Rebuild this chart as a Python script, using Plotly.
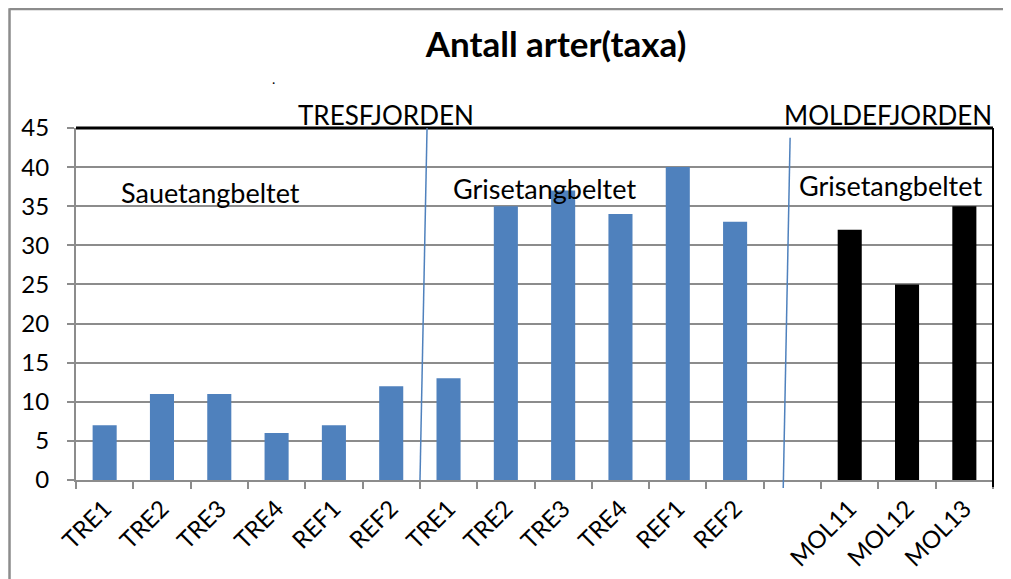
import plotly.graph_objects as go

labels = ["TRE1", "TRE2", "TRE3", "TRE4", "REF1", "REF2",
          "TRE1", "TRE2", "TRE3", "TRE4", "REF1", "REF2",
          "", "MOL11", "MOL12", "MOL13"]
tres_sauetang = [7, 11, 11, 6, 7, 12]
tres_grisetang = [13, 35, 37, 34, 40, 33]
molde_grisetang = [32, 25, 35]

BLUE = "#4F81BD"
GRID = "#8C8C8C"
FONT = "Lato"

n = len(labels)
x_sau = list(range(0, 6))
x_gris = list(range(6, 12))
x_mol = list(range(13, 16))

fig = go.Figure()
fig.add_trace(go.Bar(x=x_sau, y=tres_sauetang, marker=dict(color=BLUE, line=dict(width=0)),
                     width=0.42, showlegend=False))
fig.add_trace(go.Bar(x=x_gris, y=tres_grisetang, marker=dict(color=BLUE, line=dict(width=0)),
                     width=0.42, showlegend=False))
fig.add_trace(go.Bar(x=x_mol, y=molde_grisetang, marker=dict(color="black", line=dict(width=0)),
                     width=0.42, showlegend=False))

fig.update_layout(
    width=1011, height=579,
    margin=dict(l=68, r=26, t=120, b=107),
    plot_bgcolor="white", paper_bgcolor="white",
    font=dict(family=FONT, color="black"),
    title=dict(text="<b>Antall arter(taxa)</b>", x=0.542, xanchor="center",
               y=0.936, yanchor="middle", font=dict(size=35, family=FONT, color="black")),
    xaxis=dict(range=[-0.5, n - 0.5], tickmode="array", tickvals=list(range(n)),
               ticktext=labels, tickangle=-45, ticks="", showgrid=False, zeroline=False,
               showline=True, linecolor=GRID, linewidth=2, ticklabelstandoff=3,
               tickfont=dict(size=24, family=FONT),
               minor=dict(tickmode="array", tickvals=[i - 0.5 for i in range(n + 1)],
                          ticks="outside", ticklen=7, tickcolor=GRID, tickwidth=2,
                          showgrid=False)),
    yaxis=dict(range=[0, 45], tickmode="array", tickvals=list(range(0, 50, 5)),
               ticks="outside", ticklen=7, tickcolor=GRID, tickwidth=2,
               showgrid=True, gridcolor=GRID, gridwidth=2, zeroline=False,
               showline=True, linecolor=GRID, linewidth=2, ticklabelstandoff=13,
               tickfont=dict(size=24, family=FONT)),
    bargap=0.58,
)

# plot-area frame: black top and right edges
fig.add_shape(type="line", xref="paper", yref="paper", x0=0, x1=1, y0=1, y1=1,
              line=dict(color="black", width=3))
fig.add_shape(type="line", xref="paper", yref="paper", x0=1, x1=1, y0=-0.02, y1=1,
              line=dict(color="black", width=2))
# outer chart border (gray)
fig.add_shape(type="line", xref="paper", yref="paper", x0=-0.0725, x1=-0.0725, y0=-0.3, y1=1.34,
              line=dict(color="#8C8C8C", width=2.5))
fig.add_shape(type="line", xref="paper", yref="paper", x0=-0.0725, x1=1.1, y0=1.338, y1=1.338,
              line=dict(color="#8C8C8C", width=2.5))

# fjord separators
fig.add_shape(type="line", xref="x", yref="paper", x0=5.625, y0=1.0, x1=5.502, y1=0,
              line=dict(color=BLUE, width=1.5))
fig.add_shape(type="line", xref="x", yref="paper", x0=11.96, y0=0.972, x1=11.84, y1=-0.0227,
              line=dict(color=BLUE, width=1.5))

ann = [
    (4.91, 1.037, "paper", "TRESFJORDEN", 26),
    (13.67, 1.037, "paper", "MOLDEFJORDEN", 26),
    (1.84, 36.7, "y", "Sauetangbeltet", 27),
    (7.67, 37.3, "y", "Grisetangbeltet", 27),
    (13.72, 37.6, "y", "Grisetangbeltet", 27),
]
for xv, yv, yr, t, s in ann:
    fig.add_annotation(x=xv, y=yv, xref="x", yref=yr, text=t, showarrow=False,
                       xanchor="center", yanchor="middle", font=dict(size=s, family=FONT, color="black"))
fig.add_annotation(x=2.94, y=1.17, xref="x", yref="paper", text=".", showarrow=False,
                   font=dict(size=14, family=FONT, color="black"))

fig.write_html("out.html")
